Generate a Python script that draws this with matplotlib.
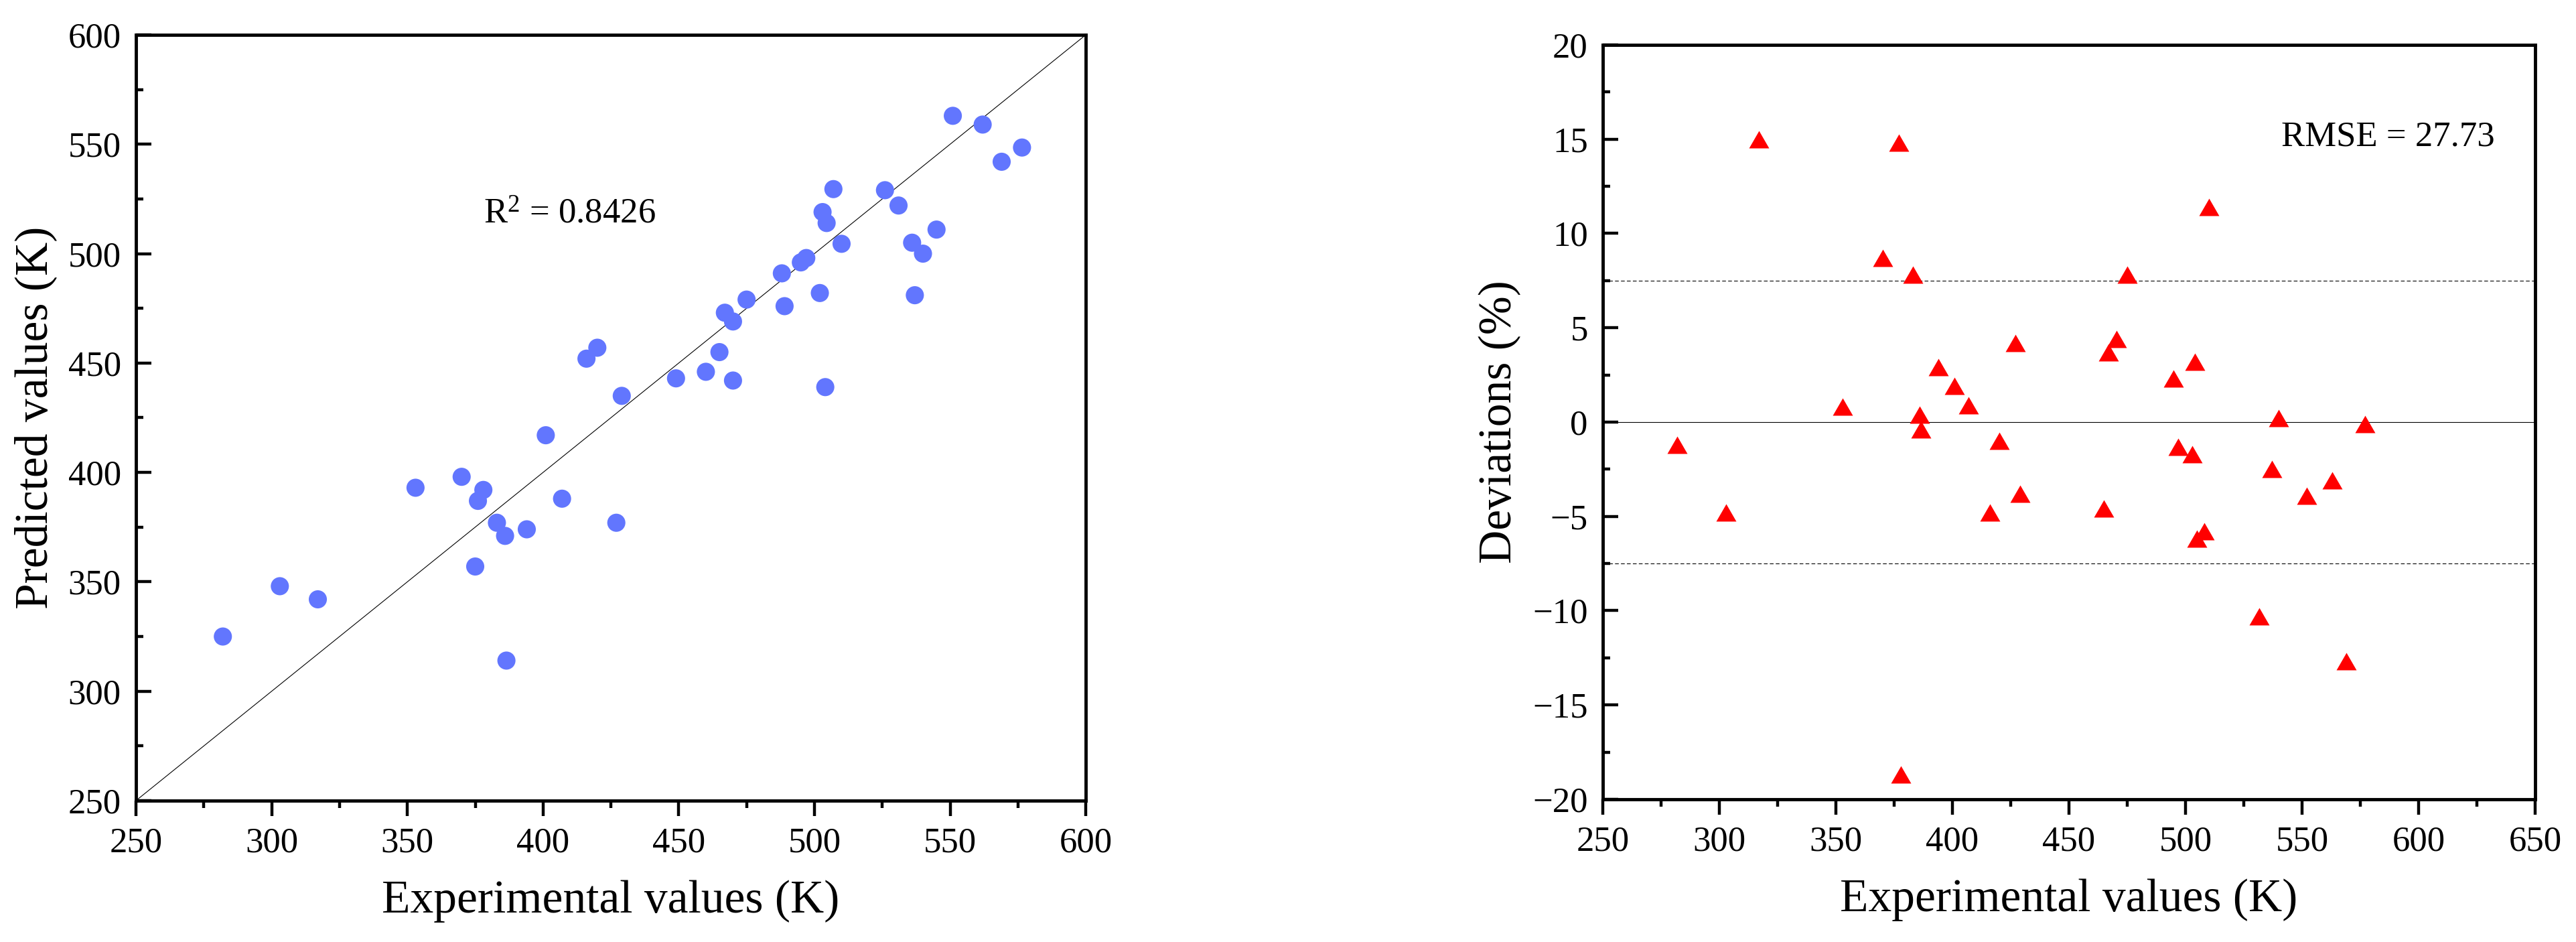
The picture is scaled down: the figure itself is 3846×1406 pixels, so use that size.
import numpy as np
import matplotlib
matplotlib.use('Agg')
import matplotlib.pyplot as plt
from matplotlib.ticker import MultipleLocator

plt.rcParams['font.family'] = ['Liberation Serif', 'DejaVu Serif']
plt.rcParams['mathtext.fontset'] = 'custom'
plt.rcParams['mathtext.rm'] = 'Liberation Serif'
plt.rcParams['mathtext.it'] = 'Liberation Serif:italic'

# left panel: experimental vs predicted (K)
exp_vals = [282, 303, 317, 353, 370, 378, 376, 375, 383, 386, 386.5, 394, 401, 407,
            416, 420, 427, 429, 449, 460, 465, 467, 470, 470, 475, 488, 489, 495,
            497, 502, 503, 504.5, 504, 507, 510, 526, 531, 536, 537, 540, 545, 551,
            562, 569, 576.5]
pred_vals = [325, 348, 342, 393, 398, 392, 387, 357, 377, 371, 314, 374, 417, 388,
             452, 457, 377, 435, 443, 446, 455, 473, 469, 442, 479, 491, 476, 496,
             498, 482, 519, 514, 439, 529.5, 504.5, 529, 522, 505, 481, 500, 511, 563,
             559, 542, 548.5]
r2_text = 'R$^{2}$ = 0.8426'

# right panel: deviations (%)
dev_x = [282, 303, 317, 353, 370, 377, 383, 386, 386.5, 378, 394, 401, 407, 416,
         420, 427, 429, 465, 467, 470.5, 475, 495, 497, 503, 504, 505, 508, 510,
         531.5, 537, 540, 552, 563, 569, 577]
dev_y = [-1.2, -4.8, 15.0, 0.8, 8.7, 14.8, 7.8, 0.4, -0.4, -18.7, 2.9, 1.9, 0.9, -4.8,
         -1.0, 4.2, -3.8, -4.6, 3.7, 4.4, 7.8, 2.3, -1.3, -1.7, 3.2, -6.2, -5.8, 11.4,
         -10.3, -2.5, 0.2, -3.9, -3.1, -12.7, -0.1]
dev_band = 7.5
rmse_text = 'RMSE = 27.73'

fig = plt.figure(figsize=(38.46, 14.06), dpi=100)
ax1 = fig.add_axes([0.0528, 0.1501, 0.3687, 0.8129])
ax2 = fig.add_axes([0.6222, 0.1515, 0.3619, 0.8009])

tick_fs = 38
label_fs = 50


def style(ax):
    for s in ax.spines.values():
        s.set_linewidth(3.5)
    ax.tick_params(axis='both', which='both', labelsize=tick_fs, width=3.2)
    ax.tick_params(axis='y', which='both', direction='in', pad=16)
    ax.tick_params(axis='x', which='both', direction='out', pad=12)
    ax.tick_params(which='major', length=16.5)
    ax.tick_params(which='minor', length=8)


# left
ax1.plot([250, 600], [250, 600], color='black', lw=0.8, zorder=1)
ax1.scatter(exp_vals, pred_vals, s=380, color='#6276FE', edgecolors='none', zorder=2)
ax1.set_xlim(250, 600)
ax1.set_ylim(250, 600)
ax1.xaxis.set_major_locator(MultipleLocator(50))
ax1.xaxis.set_minor_locator(MultipleLocator(25))
ax1.yaxis.set_major_locator(MultipleLocator(50))
ax1.yaxis.set_minor_locator(MultipleLocator(25))
style(ax1)
ax1.set_xlabel('Experimental values (K)', fontsize=label_fs, labelpad=22)
ax1.set_ylabel('Predicted values (K)', fontsize=label_fs, labelpad=12)
ax1.text(378, 518, r2_text, fontsize=tick_fs, va='center', ha='left')

# right
tri = [(-1, -0.866), (1, -0.866), (0, 0.866)]
ax2.axhline(0, color='black', lw=0.8, zorder=1)
for b in (dev_band, -dev_band):
    ax2.axhline(b, color='black', lw=0.8, ls=(0, (5, 3)), zorder=1)
ax2.plot(dev_x, dev_y, ls='none', marker=tri, ms=21.6, color='#FF0000',
         markeredgewidth=0, zorder=2)
ax2.set_xlim(250, 650)
ax2.set_ylim(-20, 20)
ax2.xaxis.set_major_locator(MultipleLocator(50))
ax2.xaxis.set_minor_locator(MultipleLocator(25))
ax2.yaxis.set_major_locator(MultipleLocator(5))
ax2.yaxis.set_minor_locator(MultipleLocator(2.5))
style(ax2)
ax2.set_xlabel('Experimental values (K)', fontsize=label_fs, labelpad=22)
ax2.set_ylabel('Deviations (%)', fontsize=label_fs, labelpad=12)
ax2.text(541, 15.1, rmse_text, fontsize=tick_fs, va='center', ha='left')

fig.savefig('out.png', dpi=100)
